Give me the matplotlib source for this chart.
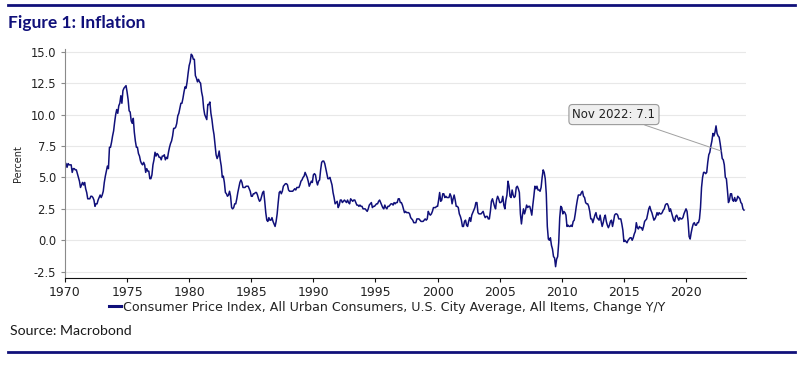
"""
US CPI inflation, year-over-year, 1970-2024 (Figure 1).
"""

import matplotlib.pyplot as plt
import numpy as np
from matplotlib.lines import Line2D

# Monthly CPI-U, all items, change Y/Y [%], starting Jan 1970
cpi_1970s = [
    6.2, 6.1, 5.8, 6.1, 6.0, 6.0, 6.0, 5.4, 5.7, 5.7, 5.6, 5.6,
    5.3, 5.0, 4.7, 4.2, 4.4, 4.6, 4.4, 4.6, 4.1, 3.8, 3.3, 3.3,
    3.3, 3.5, 3.5, 3.4, 3.2, 2.7, 2.9, 2.9, 3.2, 3.4, 3.6, 3.4,
    3.6, 3.9, 4.6, 5.1, 5.5, 5.9, 5.7, 7.4, 7.4, 7.8, 8.3, 8.7,
    9.4, 10.0, 10.4, 10.1, 10.7, 10.9, 11.5, 10.9, 11.9, 12.1, 12.2, 12.3,
    11.8, 11.2, 10.3, 10.2, 9.5, 9.3, 9.7, 8.6, 7.9, 7.4, 7.4, 6.9,
    6.7, 6.3, 6.1, 6.0, 6.2, 6.0, 5.4, 5.7, 5.5, 5.5, 4.9, 4.9,
    5.2, 6.0, 6.4, 7.0, 6.7, 6.9, 6.8, 6.6, 6.6, 6.4, 6.7, 6.7,
    6.8, 6.4, 6.6, 6.5, 7.0, 7.4, 7.7, 7.9, 8.3, 8.9, 8.9, 9.0,
    9.3, 9.9, 10.1, 10.5, 10.9, 10.9, 11.3, 11.8, 12.2, 12.1, 12.6, 13.3,
]
cpi_1980s = [
    13.9, 14.2, 14.8, 14.7, 14.4, 14.4, 13.1, 12.9, 12.6, 12.8, 12.6, 12.5,
    11.8, 11.4, 10.5, 10.0, 9.8, 9.6, 10.8, 10.8, 11.0, 10.1, 9.6, 8.9,
    8.4, 7.6, 6.8, 6.5, 6.7, 7.1, 6.4, 5.9, 5.0, 5.1, 4.6, 3.8,
    3.7, 3.5, 3.6, 3.9, 3.5, 2.6, 2.5, 2.6, 2.9, 2.9, 3.3, 3.8,
    4.2, 4.6, 4.8, 4.6, 4.2, 4.2, 4.2, 4.3, 4.3, 4.3, 4.1, 3.9,
    3.5, 3.5, 3.7, 3.7, 3.8, 3.8, 3.6, 3.3, 3.1, 3.2, 3.5, 3.8,
    3.9, 3.1, 2.2, 1.6, 1.5, 1.8, 1.6, 1.6, 1.8, 1.5, 1.3, 1.1,
    1.5, 2.1, 3.0, 3.8, 3.9, 3.7, 3.9, 4.3, 4.4, 4.5, 4.5, 4.4,
    4.0, 3.9, 3.9, 3.9, 3.9, 4.0, 4.1, 4.0, 4.2, 4.2, 4.2, 4.4,
    4.7, 4.8, 5.0, 5.1, 5.4, 5.2, 5.0, 4.7, 4.3, 4.5, 4.7, 4.6,
]
cpi_1990s = [
    5.2, 5.3, 5.2, 4.7, 4.4, 4.7, 4.8, 5.6, 6.2, 6.3, 6.3, 6.1,
    5.7, 5.3, 4.9, 4.9, 5.0, 4.7, 4.4, 3.8, 3.4, 2.9, 3.0, 3.1,
    2.6, 2.8, 3.2, 3.2, 3.0, 3.1, 3.2, 3.1, 3.0, 3.2, 3.0, 2.9,
    3.3, 3.2, 3.1, 3.2, 3.2, 3.0, 2.8, 2.8, 2.7, 2.8, 2.7, 2.7,
    2.5, 2.5, 2.5, 2.4, 2.3, 2.5, 2.8, 2.9, 3.0, 2.6, 2.7, 2.7,
    2.8, 2.9, 2.9, 3.1, 3.2, 3.0, 2.8, 2.6, 2.5, 2.8, 2.6, 2.5,
    2.7, 2.7, 2.8, 2.9, 2.9, 2.8, 3.0, 2.9, 3.0, 3.0, 3.3, 3.3,
    3.0, 3.0, 2.8, 2.5, 2.2, 2.3, 2.2, 2.2, 2.2, 2.1, 1.8, 1.7,
    1.6, 1.4, 1.4, 1.4, 1.7, 1.7, 1.7, 1.6, 1.5, 1.5, 1.5, 1.6,
    1.7, 1.6, 1.7, 2.3, 2.1, 2.0, 2.1, 2.3, 2.6, 2.6, 2.6, 2.7,
]
cpi_2000s = [
    2.7, 3.2, 3.8, 3.1, 3.2, 3.7, 3.7, 3.4, 3.5, 3.4, 3.4, 3.4,
    3.7, 3.5, 2.9, 3.3, 3.6, 3.2, 2.7, 2.7, 2.6, 2.1, 1.9, 1.6,
    1.1, 1.1, 1.5, 1.6, 1.2, 1.1, 1.5, 1.8, 1.5, 2.0, 2.2, 2.4,
    2.6, 3.0, 3.0, 2.2, 2.1, 2.1, 2.1, 2.2, 2.3, 2.0, 1.8, 1.9,
    1.9, 1.7, 1.7, 2.3, 3.1, 3.3, 3.0, 2.7, 2.5, 3.2, 3.5, 3.3,
    3.0, 3.0, 3.1, 3.5, 2.8, 2.5, 3.2, 3.6, 4.7, 4.3, 3.5, 3.4,
    4.0, 3.6, 3.4, 3.5, 4.2, 4.3, 4.1, 3.8, 2.1, 1.3, 2.0, 2.5,
    2.1, 2.4, 2.8, 2.6, 2.7, 2.7, 2.4, 2.0, 2.8, 3.5, 4.3, 4.1,
    4.3, 4.0, 4.0, 3.9, 4.2, 5.0, 5.6, 5.4, 4.9, 3.7, 1.1, 0.1,
    0.0, 0.2, -0.4, -0.7, -1.3, -1.4, -2.1, -1.5, -1.3, -0.2, 1.8, 2.7,
]
cpi_2010s = [
    2.6, 2.1, 2.3, 2.2, 2.0, 1.1, 1.2, 1.1, 1.1, 1.2, 1.1, 1.5,
    1.6, 2.1, 2.7, 3.2, 3.6, 3.6, 3.6, 3.8, 3.9, 3.5, 3.4, 3.0,
    2.9, 2.9, 2.7, 2.3, 1.7, 1.7, 1.4, 1.7, 2.0, 2.2, 1.8, 1.7,
    1.6, 2.0, 1.5, 1.1, 1.4, 1.8, 2.0, 1.5, 1.2, 1.0, 1.2, 1.5,
    1.6, 1.1, 1.5, 2.0, 2.1, 2.1, 2.0, 1.7, 1.7, 1.7, 1.3, 0.8,
    -0.1, 0.0, -0.1, -0.2, 0.0, 0.1, 0.2, 0.2, 0.0, 0.2, 0.5, 0.7,
    1.4, 1.0, 0.9, 1.1, 1.0, 1.0, 0.8, 1.1, 1.5, 1.6, 1.7, 2.1,
    2.5, 2.7, 2.4, 2.2, 1.9, 1.6, 1.7, 1.9, 2.2, 2.0, 2.2, 2.1,
    2.1, 2.2, 2.4, 2.5, 2.8, 2.9, 2.9, 2.7, 2.3, 2.5, 2.2, 1.9,
    1.6, 1.5, 1.9, 2.0, 1.8, 1.6, 1.8, 1.7, 1.7, 1.8, 2.1, 2.3,
]
cpi_2020s = [
    2.5, 2.3, 1.5, 0.3, 0.1, 0.6, 1.0, 1.3, 1.4, 1.2, 1.2, 1.4,
    1.4, 1.7, 2.6, 4.2, 5.0, 5.4, 5.4, 5.3, 5.4, 6.2, 6.8, 7.0,
    7.5, 7.9, 8.5, 8.3, 8.6, 9.1, 8.5, 8.3, 8.2, 7.7, 7.1, 6.5,
    6.4, 6.0, 5.0, 4.9, 4.0, 3.0, 3.2, 3.7, 3.7, 3.2, 3.1, 3.4,
    3.1, 3.2, 3.5, 3.4, 3.3, 3.0, 2.9, 2.5, 2.4,
]

start_year = 1970
y_ticks = [-2.5, 0.0, 2.5, 5.0, 7.5, 10.0, 12.5, 15.0]
x_ticks = list(range(1970, 2021, 5))
note_year, note_month = 2022, 11

series_label = ("Consumer Price Index, All Urban Consumers, U.S. City Average, "
                "All Items, Change Y/Y")

NAVY = "#10107a"

cpi = np.array(cpi_1970s + cpi_1980s + cpi_1990s + cpi_2000s + cpi_2010s + cpi_2020s)
t = start_year + np.arange(len(cpi)) / 12.0

fig = plt.figure(figsize=(8.04, 3.75), dpi=100)
ax = fig.add_axes([0.0808, 0.2587, 0.8466, 0.6101])

ax.plot(t, cpi, color=NAVY, linewidth=1.1)

ax.set_xlim(1970, 2024.8)
ax.set_ylim(-3.0, 15.2)
ax.set_xticks(x_ticks)
ax.set_yticks(y_ticks)
ax.set_yticklabels([f"{v:.1f}" for v in y_ticks])
ax.grid(axis="y", color="#e8e8e8", linewidth=0.8)
ax.set_axisbelow(True)

for side in ("top", "right"):
    ax.spines[side].set_visible(False)
ax.spines["left"].set_color("#8a8a8a")
ax.spines["bottom"].set_color("#111111")
ax.tick_params(axis="y", colors="#8a8a8a", labelcolor="#222222", labelsize=8.3, length=3)
ax.tick_params(axis="x", colors="#111111", labelcolor="#222222", labelsize=9, length=3, pad=2.5)

ax.set_ylabel("Percent", fontsize=7, color="#222222", labelpad=5)

# callout for the Nov 2022 reading
idx = (note_year - start_year) * 12 + note_month - 1
ax.annotate(
    f"Nov {note_year}: {cpi[idx]:.1f}",
    xy=(t[idx], cpi[idx]), xytext=(2014.2, 10.0),
    ha="center", va="center", fontsize=8.5, color="#222222",
    bbox=dict(boxstyle="round,pad=0.3", facecolor="#efefef", edgecolor="#9a9a9a", linewidth=0.8),
    arrowprops=dict(arrowstyle="-", color="#a0a0a0", linewidth=0.7, shrinkA=0, shrinkB=0),
)

handle = Line2D([], [], color=NAVY, linewidth=2.2)
fig.legend([handle], [series_label], loc="center", bbox_to_anchor=(0.482, 1 - 307 / 375),
           frameon=False, fontsize=9.1, handlelength=0.9, handletextpad=0.2, labelcolor="#222222")

fig.text(0.010, 1 - 23 / 375, "Figure 1: Inflation", fontsize=12.5, fontweight="bold",
         color=NAVY, family="Lato", va="center", ha="left")
fig.text(0.012, 1 - 331 / 375, "Source: Macrobond", fontsize=10.2, color="#1a1a1a",
         family="Lato", va="center", ha="left")

for y_px in (5, 351.5):
    fig.add_artist(Line2D([8 / 804, 795 / 804], [1 - y_px / 375] * 2,
                          color=NAVY, linewidth=2.0, transform=fig.transFigure))

fig.savefig("out.png", dpi=100)
plt.close(fig)
